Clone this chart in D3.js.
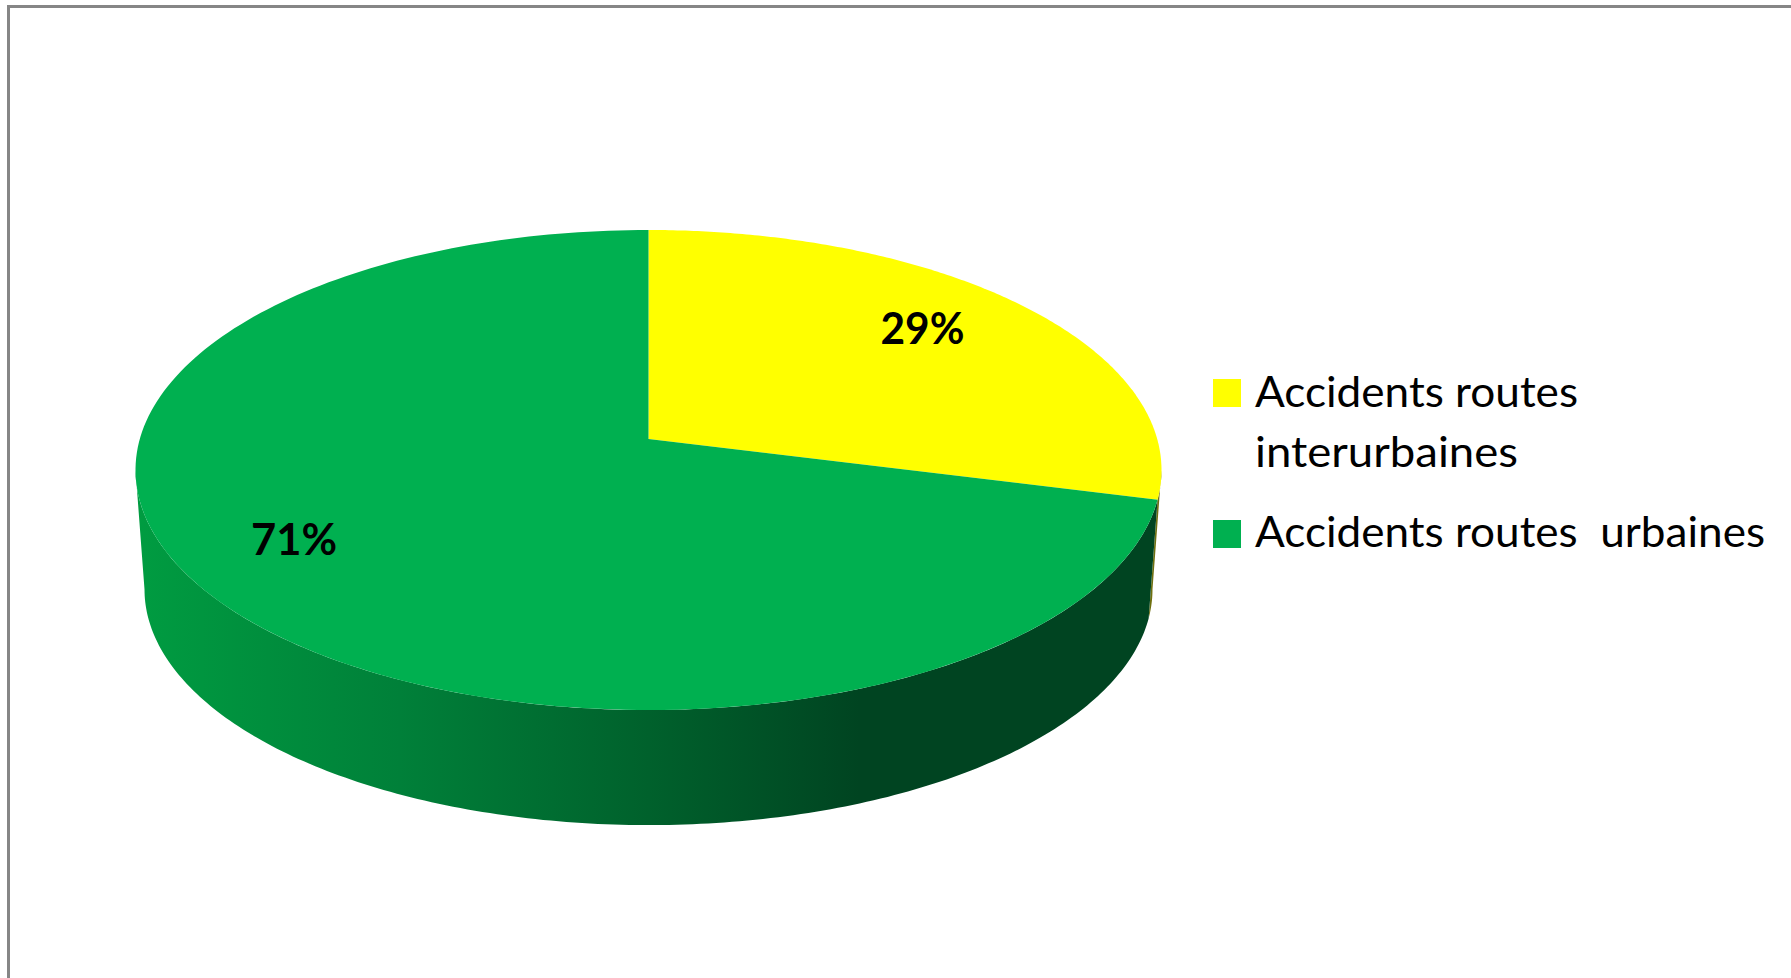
<!DOCTYPE html>
<html>
<head>
<meta charset="utf-8">
<script src="https://cdn.jsdelivr.net/npm/d3@7"></script>
<style>
    body { margin: 0; background: #fff; }
    text { font-family: Lato, "Open Sans", sans-serif; fill: #000; white-space: pre; }
</style>
</head>
<body>
<script>
var categories = ["Accidents routes interurbaines", "Accidents routes urbaines"];
var values = [29, 71];
var percentLabels = ["29%", "71%"];
var legendLines = [["Accidents routes", "interurbaines"], ["Accidents routes  urbaines"]];

var width = 1791, height = 978;

var svg = d3.select("body").append("svg")
    .attr("width", width)
    .attr("height", height)
    .style("display", "block");

// chart frame, only top and left edges are in the picture
svg.append("path")
    .attr("d", d3.line()([[8.5, height], [8.5, 6.5], [width, 6.5]]))
    .attr("fill", "none")
    .attr("stroke", "#868686")
    .attr("stroke-width", 3);

var color = d3.scaleOrdinal().domain(categories).range(["#ffff00", "#00b050"]);

// the pie is tilted: the centre sits higher than the middle of the ellipse
var cx = 648.5, rx = 513;
var topY = 230, apexY = 439, botY = 710;
var midY = (topY + botY) / 2;
var C = (2 * apexY - topY - botY) / (botY - topY);
var A = botY * (1 + C) - apexY;
var K = rx * Math.sqrt(1 - C * C);

// depth of the side wall and shrink of the lower rim
var wallDrop = 119.3, wallScale = 504 / 513;

function project(angle, lower) {
    var u = Math.sin(angle), v = -Math.cos(angle);
    var d = 1 + C * v;
    var x = K * u / d;
    var y = (A * v + apexY) / d;
    if (lower) {
        return [cx + x * wallScale, midY + (y - midY) * wallScale + wallDrop];
    }
    return [cx + x, y];
}

function arcPoints(a0, a1, lower) {
    return d3.range(0, 201).map(function (i) {
        return project(a0 + (a1 - a0) * i / 200, lower);
    });
}

var pie = d3.pie().sort(null).value(function (d) { return d; });
var slices = pie(values);

// angles where the ellipse is at its widest, the walls end there
var rightEdge = Math.acos(C);
var leftEdge = 2 * Math.PI - rightEdge;

var defs = svg.append("defs");
var grad = defs.append("linearGradient")
    .attr("id", "wallGreen")
    .attr("gradientUnits", "userSpaceOnUse")
    .attr("x1", 136).attr("x2", 1161)
    .attr("y1", 0).attr("y2", 0);
grad.selectAll("stop")
    .data([[0, "#009c41"], [0.257, "#008039"], [0.5, "#00612c"], [0.706, "#004421"], [1, "#004421"]])
    .enter().append("stop")
    .attr("offset", function (d) { return d[0]; })
    .attr("stop-color", function (d) { return d[1]; });

var line = d3.line();

// yellow wall, nearly all hidden behind the green one
svg.append("path")
    .attr("d", line(arcPoints(rightEdge, slices[0].endAngle, false)
        .concat(arcPoints(slices[0].endAngle, rightEdge, true))) + "Z")
    .attr("fill", "#6f7010");

// green wall
svg.append("path")
    .attr("d", line(arcPoints(slices[1].startAngle, leftEdge, false)
        .concat(arcPoints(leftEdge, slices[1].startAngle, true))) + "Z")
    .attr("fill", "url(#wallGreen)");

// top faces
svg.selectAll(".slice")
    .data(slices)
    .enter().append("path")
    .attr("class", "slice")
    .attr("d", function (d) {
        return line([[cx, apexY]].concat(arcPoints(d.startAngle, d.endAngle, false))) + "Z";
    })
    .attr("fill", function (d, i) { return color(categories[i]); });

// percentage labels
var labelPos = [[922.5, 344, 84], [294, 555, 86]];
svg.selectAll(".pct")
    .data(percentLabels)
    .enter().append("text")
    .attr("class", "pct")
    .attr("x", function (d, i) { return labelPos[i][0]; })
    .attr("y", function (d, i) { return labelPos[i][1]; })
    .attr("text-anchor", "middle")
    .attr("font-size", 43)
    .attr("font-weight", 700)
    .attr("textLength", function (d, i) { return labelPos[i][2]; })
    .attr("lengthAdjust", "spacingAndGlyphs")
    .text(function (d) { return d; });

// legend
var swatchY = [379, 520];
var lineY = [[407, 467], [547]];
var lineLen = [[323, 263], [510]];

var legend = svg.selectAll(".legend")
    .data(categories)
    .enter().append("g")
    .attr("class", "legend");

legend.append("rect")
    .attr("x", 1213)
    .attr("y", function (d, i) { return swatchY[i]; })
    .attr("width", 28)
    .attr("height", 28)
    .attr("fill", function (d) { return color(d); });

legend.each(function (d, i) {
    d3.select(this).selectAll("text")
        .data(legendLines[i])
        .enter().append("text")
        .attr("x", 1255)
        .attr("y", function (t, j) { return lineY[i][j]; })
        .attr("font-size", 43)
        .attr("textLength", function (t, j) { return lineLen[i][j]; })
        .attr("lengthAdjust", "spacingAndGlyphs")
        .text(function (t) { return t; });
});
</script>
</body>
</html>
